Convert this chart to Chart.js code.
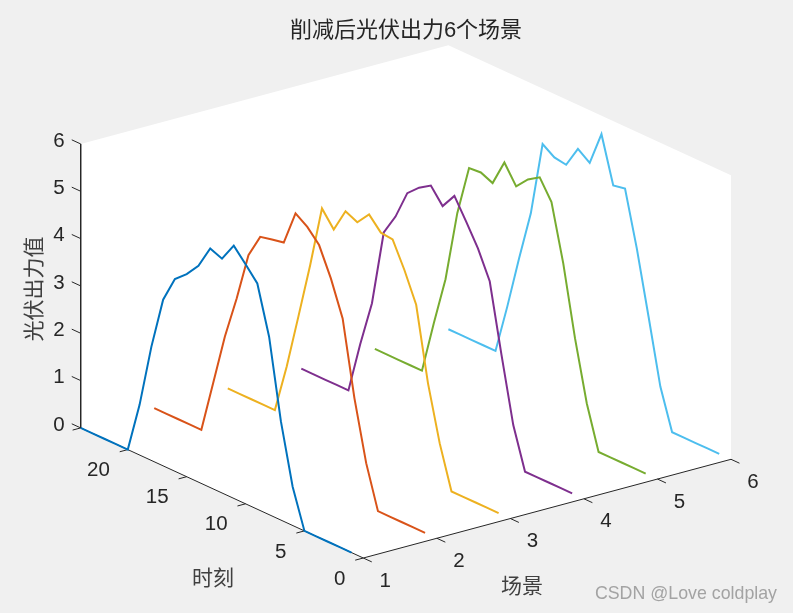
<!DOCTYPE html>
<html>
<head>
<meta charset="utf-8">
<title>削减后光伏出力6个场景</title>
<script src="https://cdn.jsdelivr.net/npm/chart.js@4"></script>
<style>
  body { margin: 0; background: #f0f0f0; }
  canvas { display: block; }
</style>
</head>
<body>
<canvas id="chart" width="793" height="613"></canvas>
<script>
// Values, hours 1 to 24
const hours = [1, 2, 3, 4, 5, 6, 7, 8, 9, 10, 11, 12, 13, 14, 15, 16, 17, 18, 19, 20, 21, 22, 23, 24];
const scene1 = [0, 0, 0, 0, 0, 0.82, 2.09, 3.76, 4.77, 5.06, 5.34, 4.95, 5.05, 4.57, 4.28, 4.06, 3.51, 2.40, 1.06, 0, 0, 0, 0, 0];
const scene2 = [0, 0, 0, 0, 0, 0.90, 2.16, 3.73, 4.46, 5.05, 5.32, 5.49, 4.76, 4.71, 4.65, 4.15, 3.12, 2.20, 1.10, 0, 0, 0, 0, 0];
const scene3 = [0, 0, 0, 0, 0, 0.90, 2.06, 3.60, 4.22, 4.75, 4.78, 5.05, 4.77, 4.89, 4.39, 4.72, 3.41, 2.21, 1.03, 0, 0, 0, 0, 0];
const scene4 = [0, 0, 0, 0, 0, 0.87, 2.24, 3.68, 4.26, 4.71, 5.14, 4.81, 5.13, 4.97, 4.74, 4.13, 3.68, 2.07, 1.09, 0, 0, 0, 0, 0];
const scene5 = [0, 0, 0, 0, 0, 0.91, 2.17, 3.64, 4.82, 5.23, 5.07, 4.81, 5.20, 4.65, 4.76, 4.74, 3.67, 2.16, 1.11, 0, 0, 0, 0, 0];
const scene6 = [0, 0, 0, 0, 0, 0.85, 2.21, 3.54, 4.69, 4.64, 5.61, 4.89, 5.07, 4.62, 4.66, 4.83, 3.25, 2.18, 1.05, 0, 0, 0, 0, 0];
const allScenes = [scene1, scene2, scene3, scene4, scene5, scene6];

const sceneTicks = [1, 2, 3, 4, 5, 6];
const hourTicks = [0, 5, 10, 15, 20];
const valueTicks = [0, 1, 2, 3, 4, 5, 6];
const colors = ['#0072BD', '#D95319', '#EDB120', '#7E2F8E', '#77AC30', '#4DBEEE'];

const titleText = '削减后光伏出力6个场景';
const xLabel = '场景';
const yLabel = '时刻';
const zLabel = '光伏出力值';
const watermark = 'CSDN @Love coldplay';

// Fixed 3D view (orthographic): where the axes box lands on the 2D plane
const view = { x0: 363.3, y0: 558, sx: 73.54, sy: -19.74, tx: -11.775, ty: -5.42, zy: -47.33 };
const project = (scene, hour, value) => ({
  x: view.x0 + view.sx * (scene - 1) + view.tx * hour,
  y: view.y0 + view.sy * (scene - 1) + view.ty * hour + view.zy * value
});

const axisColor = '#262626';
const gap = { x: null, y: null };

function lineDataset(data, color, width, order) {
  return { data, borderColor: color, borderWidth: width, pointRadius: 0, showLine: true, tension: 0, order, clip: false };
}

// The six curves
const curves = allScenes.map((values, i) => {
  const data = hours.map((h, j) => project(i + 1, h, values[j]));
  return lineDataset(data, colors[i], 2, 1);
});

// White back of the box
const wall = lineDataset([
  project(1, 24, 0), project(1, 24, 6), project(6, 24, 6),
  project(6, 0, 6), project(6, 0, 0), project(1, 0, 0), project(1, 24, 0)
], '#ffffff', 0, 3);
wall.fill = 'shape';
wall.backgroundColor = '#ffffff';

// Axis lines and tick marks
const axisLines = lineDataset([
  project(1, 24, 6), project(1, 24, 0), project(1, 0, 0), project(6, 0, 0)
], axisColor, 1, 2);
const tickMarks = [];
sceneTicks.forEach(s => tickMarks.push(project(s, 0, 0), project(s, -0.72, 0), gap));
hourTicks.concat([24]).forEach(h => tickMarks.push(project(1, h, 0), project(0.89, h, 0), gap));
valueTicks.forEach(v => tickMarks.push(project(1, 24, v), project(1, 24.76, v), gap));
const tickDataset = lineDataset(tickMarks, axisColor, 1, 2);

// Tick labels and axis titles, placed from the same projection
const textLayer = {
  id: 'textLayer',
  afterDraw(chart) {
    const ctx = chart.ctx;
    const px = p => ({ x: chart.scales.x.getPixelForValue(p.x), y: chart.scales.y.getPixelForValue(p.y) });
    ctx.save();
    ctx.fillStyle = axisColor;
    ctx.textBaseline = 'middle';
    ctx.font = '20.5px "Liberation Sans"';

    ctx.textAlign = 'center';
    sceneTicks.forEach(s => {
      const p = px(project(s, 0, 0));
      ctx.fillText(s, p.x + 22, p.y + 23);
    });
    ctx.textAlign = 'right';
    hourTicks.forEach(h => {
      const p = px(project(1, h, 0));
      ctx.fillText(h, p.x - 18, p.y + 21);
    });
    valueTicks.forEach(v => {
      const p = px(project(1, 24, v));
      ctx.fillText(v, p.x - 16, p.y - 3);
    });

    ctx.textAlign = 'center';
    ctx.font = '21px "Noto Sans CJK SC"';
    ctx.fillStyle = '#404040';
    ctx.fillText(xLabel, 522, 585);
    ctx.fillText(yLabel, 213, 577);
    ctx.save();
    ctx.translate(33, 289);
    ctx.rotate(-Math.PI / 2);
    ctx.fillText(zLabel, 0, 0);
    ctx.restore();

    ctx.textAlign = 'right';
    ctx.font = '17.8px "Liberation Sans"';
    ctx.fillStyle = '#a3a3a3';
    ctx.fillText(watermark, 777, 594);
    ctx.restore();
  }
};

new Chart(document.getElementById('chart'), {
  type: 'scatter',
  data: { datasets: [...curves, axisLines, tickDataset, wall] },
  options: {
    responsive: false,
    animation: false,
    layout: { padding: { left: 19 } },
    plugins: {
      legend: { display: false },
      tooltip: { enabled: false },
      title: {
        display: true,
        text: titleText,
        fullSize: false,
        color: '#262626',
        font: { family: '"Liberation Sans", "Noto Sans CJK SC"', size: 22, weight: 'normal', lineHeight: 1 },
        padding: { top: 20, bottom: 0 }
      }
    },
    scales: {
      x: { type: 'linear', display: false, min: 19, max: 793 },
      y: { type: 'linear', display: false, reverse: true, min: 42, max: 613 }
    }
  },
  plugins: [textLayer]
});
</script>
</body>
</html>
